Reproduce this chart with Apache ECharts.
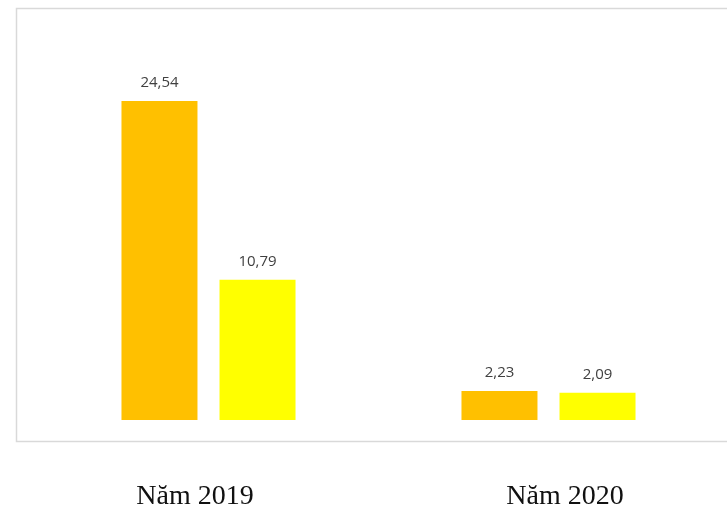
<!DOCTYPE html>
<html>
<head>
<meta charset="utf-8">
<script src="https://cdn.jsdelivr.net/npm/echarts@6/dist/echarts.min.js"></script>
<style>html,body{margin:0;padding:0;background:#fff;}#c{width:727px;height:512px;}</style>
</head>
<body>
<div id="c"></div>
<script>
var categories = ['Năm 2019', 'Năm 2020'];
var seriesA = [24.54, 2.23];
var seriesB = [10.79, 2.09];

var chart = echarts.init(document.getElementById('c'), null, {renderer: 'canvas'});
function fmt(p) { return String(p.value.toFixed(2)).replace('.', ','); }
var labelStyle = {show: true, position: 'top', distance: 11, color: '#404040', fontSize: 15, fontFamily: 'Open Sans, Liberation Sans, sans-serif', formatter: fmt};
chart.setOption({
  animation: false,
  graphic: [{
    type: 'rect', z: -1,
    shape: {x: 16.5, y: 8.5, width: 720, height: 433},
    style: {fill: 'none', stroke: '#d9d9d9', lineWidth: 1.5}
  }],
  grid: [
    {left: 38.5, right: 8.5, top: 101, bottom: 92, containLabel: false},
    {left: 195, right: 162, top: 495, bottom: 5, containLabel: false}
  ],
  xAxis: [
    {gridIndex: 0, type: 'category', data: categories, axisLine: {show: false}, axisTick: {show: false}, axisLabel: {show: false}},
    {gridIndex: 1, type: 'category', data: categories, boundaryGap: false, axisLine: {show: false}, axisTick: {show: false},
     position: 'top', axisLabel: {show: true, margin: -16, color: '#111', fontSize: 28, fontFamily: 'Liberation Serif, Times New Roman, serif'}}
  ],
  yAxis: [
    {gridIndex: 0, type: 'value', min: 0, max: 24.54, show: false, splitLine: {show: false}},
    {gridIndex: 1, type: 'value', show: false}
  ],
  series: [
    {type: 'bar', xAxisIndex: 0, yAxisIndex: 0, data: seriesA, barWidth: 76, barGap: '29%',
     itemStyle: {color: '#FFC000'}, label: labelStyle},
    {type: 'bar', xAxisIndex: 0, yAxisIndex: 0, data: seriesB, barWidth: 76, barGap: '29%',
     itemStyle: {color: '#FFFF00'}, label: labelStyle}
  ]
});
</script>
</body>
</html>
